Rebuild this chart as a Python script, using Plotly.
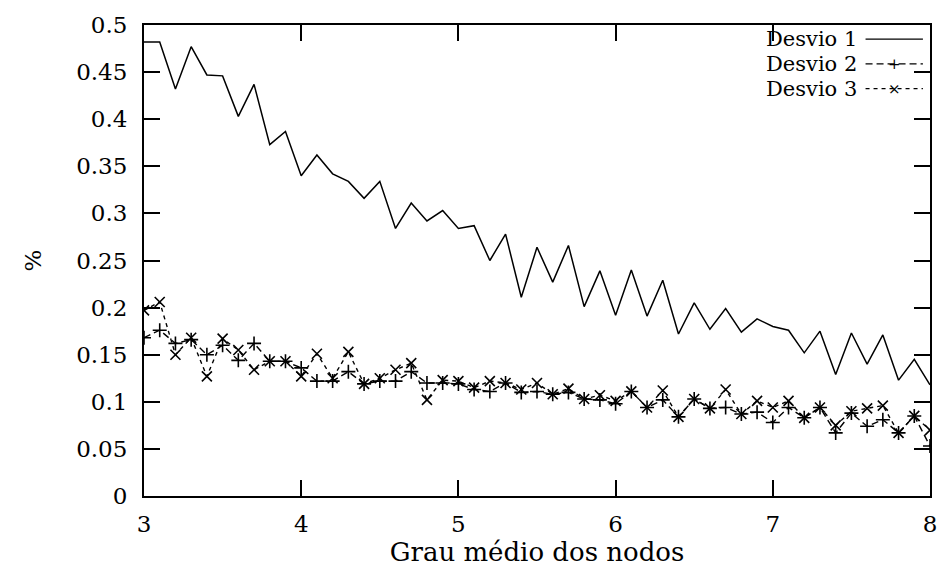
import plotly.graph_objects as go

x = [round(3.0 + 0.1 * i, 1) for i in range(51)]

desvio1 = [0.482, 0.482, 0.432, 0.477, 0.447, 0.446, 0.403, 0.437, 0.373, 0.387,
           0.340, 0.362, 0.342, 0.334, 0.316, 0.334, 0.284, 0.311, 0.292, 0.303,
           0.284, 0.287, 0.250, 0.278, 0.211, 0.264, 0.227, 0.266, 0.201, 0.239,
           0.192, 0.240, 0.191, 0.229, 0.172, 0.205, 0.177, 0.199, 0.174, 0.188,
           0.180, 0.176, 0.152, 0.175, 0.129, 0.173, 0.140, 0.171, 0.123, 0.145,
           0.118]

desvio2 = [0.168, 0.176, 0.162, 0.166, 0.150, 0.160, 0.144, 0.162, 0.143, 0.143,
           0.136, 0.122, 0.122, 0.132, 0.119, 0.122, 0.122, 0.132, 0.120, 0.120,
           0.119, 0.113, 0.111, 0.120, 0.110, 0.111, 0.108, 0.110, 0.103, 0.102,
           0.098, 0.111, 0.094, 0.102, 0.084, 0.103, 0.093, 0.094, 0.087, 0.089,
           0.078, 0.094, 0.083, 0.094, 0.067, 0.088, 0.074, 0.081, 0.067, 0.085,
           0.053]

desvio3 = [0.197, 0.206, 0.150, 0.168, 0.127, 0.167, 0.155, 0.134, 0.143, 0.143,
           0.127, 0.151, 0.125, 0.153, 0.119, 0.125, 0.134, 0.141, 0.102, 0.123,
           0.122, 0.115, 0.122, 0.120, 0.113, 0.120, 0.108, 0.114, 0.103, 0.107,
           0.101, 0.111, 0.094, 0.112, 0.084, 0.103, 0.093, 0.113, 0.087, 0.101,
           0.094, 0.101, 0.083, 0.094, 0.075, 0.090, 0.093, 0.096, 0.067, 0.085,
           0.070]

names = ["Desvio 1", "Desvio 2", "Desvio 3"]
y_ticks = [0, 0.05, 0.1, 0.15, 0.2, 0.25, 0.3, 0.35, 0.4, 0.45, 0.5]
y_tick_text = ["0", "0.05", "0.1", "0.15", "0.2", "0.25", "0.3", "0.35", "0.4", "0.45", "0.5"]
x_ticks = [3, 4, 5, 6, 7, 8]

FONT = "DejaVu Serif"
FS = 23
BLACK = "#000000"

fig = go.Figure()
fig.add_trace(go.Scatter(x=x, y=desvio1, mode="lines", name=names[0],
                         line=dict(color=BLACK, width=1.5), showlegend=False))
fig.add_trace(go.Scatter(x=x, y=desvio2, mode="lines+markers", name=names[1],
                         line=dict(color=BLACK, width=1.4, dash="7px,4px"),
                         marker=dict(symbol="cross-thin-open", size=10,
                                     line=dict(color=BLACK, width=1.6)),
                         showlegend=False))
fig.add_trace(go.Scatter(x=x, y=desvio3, mode="lines+markers", name=names[2],
                         line=dict(color=BLACK, width=1.4, dash="4px,4px"),
                         marker=dict(symbol="x-thin-open", size=10,
                                     line=dict(color=BLACK, width=1.6)),
                         showlegend=False))

# custom gnuplot-style legend (text first, line sample on the right)
leg_rows = [0.970, 0.9175, 0.865]
dashes = ["solid", "7px,4px", "4px,4px"]
sym = [None, "+", "×"]
for i, nm in enumerate(names):
    yy = leg_rows[i]
    fig.add_annotation(x=0.91, y=yy, xref="paper", yref="paper", text=nm,
                       showarrow=False, xanchor="right", yanchor="middle",
                       font=dict(family=FONT, size=21, color=BLACK))
    fig.add_shape(type="line", xref="paper", yref="paper",
                  x0=0.918, x1=0.991, y0=yy, y1=yy,
                  line=dict(color=BLACK, width=1.4, dash=dashes[i]))
    if sym[i]:
        fig.add_annotation(x=0.955, y=yy, xref="paper", yref="paper", text=sym[i],
                           showarrow=False, xanchor="center", yanchor="middle",
                           font=dict(family=FONT, size=15, color=BLACK))

fig.update_layout(
    width=949, height=578,
    margin=dict(l=144, r=12, t=20, b=82),
    paper_bgcolor="white", plot_bgcolor="white",
    font=dict(family=FONT, size=FS, color=BLACK),
    showlegend=False,
)
fig.update_xaxes(range=[3, 8], tickvals=x_ticks, ticks="inside", ticklen=16,
                 tickwidth=1.5, tickcolor=BLACK, showline=True, linewidth=2,
                 linecolor=BLACK, mirror="ticks", showgrid=False, zeroline=False,
                 ticklabelstandoff=6,
                 title=dict(text="Grau médio dos nodos", font=dict(family=FONT, size=26),
                            standoff=5),
                 tickfont=dict(family=FONT, size=FS))
fig.update_yaxes(range=[0, 0.5], tickvals=y_ticks, ticktext=y_tick_text, ticks="inside",
                 ticklen=16, tickwidth=1.5, tickcolor=BLACK, showline=True, linewidth=2,
                 linecolor=BLACK, mirror="ticks", showgrid=False, zeroline=False,
                 ticklabelstandoff=10,
                 title=dict(text="%", font=dict(family=FONT, size=FS), standoff=28),
                 tickfont=dict(family=FONT, size=FS))

fig.write_html("out.html")
